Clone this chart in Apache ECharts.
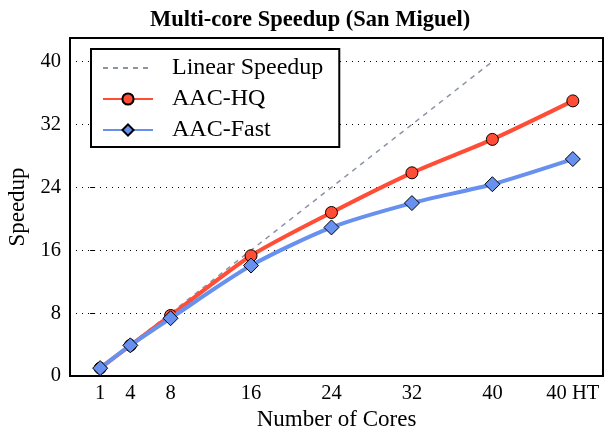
<!DOCTYPE html>
<html>
<head>
<meta charset="utf-8">
<script src="https://cdn.jsdelivr.net/npm/echarts@6/dist/echarts.min.js"></script>
<style>
  html, body { margin: 0; padding: 0; background: #fff; }
  #chart { width: 610px; height: 426px; }
</style>
</head>
<body>
<div id="chart"></div>
<script>
// x positions of each core count; the last one (48) is the "40 HT" slot
const cores      = [1, 4, 8, 16, 24, 32, 40, 48]
const coreLabels = ['1', '4', '8', '16', '24', '32', '40', '40 HT']
const linear     = [1, 4, 8, 16, 24, 32, 40, null]
const aacHQ      = [1, 3.9, 7.7, 15.3, 20.8, 25.85, 30.1, 35.0]
const aacFast    = [1, 3.9, 7.35, 14.05, 18.9, 22.0, 24.4, 27.6]
const yTicks     = [0, 8, 16, 24, 32, 40]

const SERIF = '"Liberation Serif", "DejaVu Serif", serif'
const pairs = (ys) => cores.map((x, i) => [x, ys[i]]).filter(p => p[1] != null)

const chart = echarts.init(document.getElementById('chart'), null, { renderer: 'canvas' })

chart.setOption({
  animation: false,
  backgroundColor: '#fff',
  title: {
    text: 'Multi-core Speedup (San Miguel)',
    left: 145,
    top: 4,
    textStyle: { fontFamily: SERIF, fontSize: 22.5, fontWeight: 'bold', color: '#000' },
  },
  grid: {
    left: 70, right: 7, top: 38, bottom: 50,
    outerBoundsMode: 'none',
    containLabel: false,
    show: true,
    borderColor: '#000',
    borderWidth: 2,
    backgroundColor: 'transparent',
  },
  legend: {
    left: 91,
    top: 49,
    orient: 'vertical',
    itemWidth: 50,
    itemHeight: 14,
    itemGap: 7,
    padding: [7, 16, 5, 11],
    backgroundColor: '#fff',
    borderColor: '#000',
    borderWidth: 2,
    borderRadius: 0,
    textStyle: { fontFamily: SERIF, fontSize: 24, color: '#000', padding: [0, 0, 0, 14] },
    data: [
      { name: 'Linear Speedup', itemStyle: { opacity: 0 } },
      'AAC-HQ',
      'AAC-Fast',
    ],
  },
  xAxis: {
    type: 'value',
    min: -2,
    max: 51,
    axisLine: { show: false },
    axisTick: { show: false },
    splitLine: { show: false },
    axisLabel: {
      customValues: cores,
      margin: 7,
      fontFamily: SERIF,
      fontSize: 20.5,
      color: '#000',
      formatter: (v) => coreLabels[cores.indexOf(v)] ?? '',
    },
    name: 'Number of Cores',
    nameLocation: 'middle',
    nameGap: 24,
    nameTextStyle: { fontFamily: SERIF, fontSize: 23, color: '#000' },
  },
  yAxis: [
    {
      type: 'value',
      min: 0,
      max: 43,
      interval: 8,
      axisLine: { show: false },
      axisTick: { show: true, inside: true, length: 5, lineStyle: { color: '#000', width: 1 } },
      splitLine: { show: true, lineStyle: { color: '#000', type: [1, 5], width: 1 } },
      axisLabel: {
        margin: 9,
        fontFamily: SERIF,
        fontSize: 20.5,
        color: '#000',
        formatter: (v) => (yTicks.includes(v) ? String(v) : ''),
      },
      name: 'Speedup',
      nameLocation: 'middle',
      nameGap: 33,
      nameTextStyle: { fontFamily: SERIF, fontSize: 23, color: '#000' },
    },
    {
      type: 'value',
      position: 'right',
      min: 0,
      max: 43,
      interval: 8,
      axisLine: { show: false },
      axisTick: { show: true, inside: true, length: 5, lineStyle: { color: '#000', width: 1 } },
      splitLine: { show: false },
      axisLabel: { show: false },
    },
  ],
  series: [
    {
      name: 'Linear Speedup',
      type: 'line',
      data: pairs(linear),
      showSymbol: false,
      symbol: 'none',
      lineStyle: { color: '#8c93a3', width: 1.5, type: [5, 5] },
      itemStyle: { color: '#8c93a3' },
      z: 1,
    },
    {
      name: 'AAC-HQ',
      type: 'line',
      data: pairs(aacHQ),
      smooth: 0.25,
      symbol: 'circle',
      symbolSize: 12,
      lineStyle: { color: '#ff4d36', width: 4 },
      itemStyle: { color: '#ff4d36', borderColor: '#000', borderWidth: 1 },
      z: 3,
    },
    {
      name: 'AAC-Fast',
      type: 'line',
      data: pairs(aacFast),
      smooth: 0.25,
      symbol: 'diamond',
      symbolSize: 15,
      lineStyle: { color: '#6790ef', width: 4 },
      itemStyle: { color: '#6790ef', borderColor: '#000', borderWidth: 1 },
      z: 4,
    },
  ],
})
</script>
</body>
</html>
